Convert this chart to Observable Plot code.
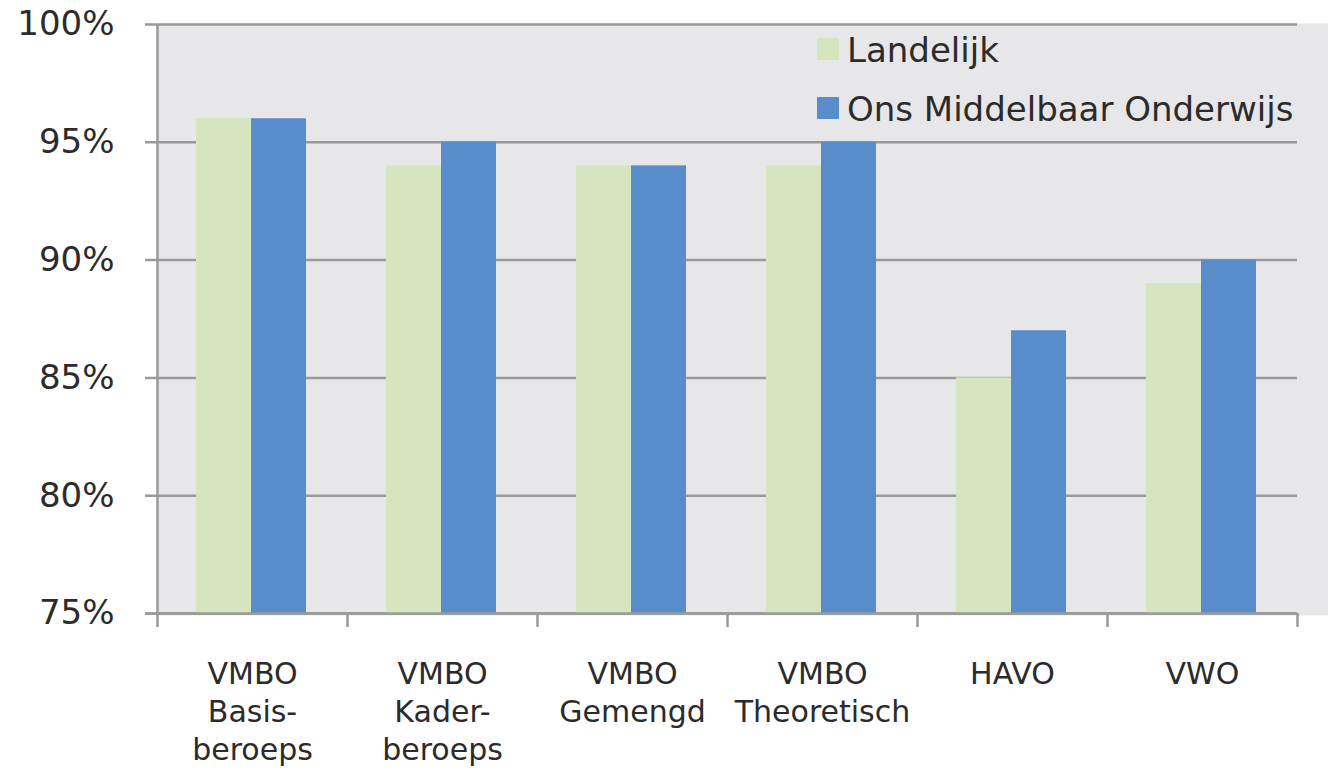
<!DOCTYPE html>
<html><head><meta charset="utf-8">
<script src="https://cdn.jsdelivr.net/npm/d3@7"></script>
<script src="https://cdn.jsdelivr.net/npm/@observablehq/plot@0.6"></script>
<style>
body{margin:0;background:#fff;font-family:"DejaVu Sans",Verdana,sans-serif;}
#wrap{position:relative;width:1328px;height:771px;}
.sw{position:absolute;left:817px;width:22px;height:22px;}
.lt{position:absolute;left:847px;font-size:34px;line-height:34px;color:#2b2b2b;white-space:nowrap;}
</style></head><body><div id="wrap"></div>
<script>
const categories = ["VMBO\nBasis-\nberoeps", "VMBO\nKader-\nberoeps", "VMBO\nGemengd", "VMBO\nTheoretisch", "HAVO", "VWO"];
const series = ["Landelijk", "Ons Middelbaar Onderwijs"];
const landelijk = [96, 94, 94, 94, 85, 89];
const ons = [96, 95, 94, 95, 87, 90];
const yTicks = [75, 80, 85, 90, 95, 100];

const colors = ["#d6e5be", "#588ccb"];
const bg = "#e7e7e9", grid = "#9a9a9a", ink = "#2b2b2b";
const W = 1328, H = 771, ml = 157, mr = 31, mt = 24, mb = 158;
const bw = (W - ml - mr) / categories.length;
const rows = categories.map((c, i) => ({cat: c, l: landelijk[i], o: ons[i]}));

const plot = Plot.plot({
  width: W, height: H,
  marginLeft: ml, marginRight: mr, marginTop: mt, marginBottom: mb,
  style: {fontFamily: '"DejaVu Sans", Verdana, sans-serif', background: "transparent", color: ink},
  x: {type: "band", domain: categories, padding: 0, axis: null},
  y: {domain: [75, 100], axis: null},
  marks: [
    Plot.frame({fill: bg, stroke: "none", insetRight: -mr, insetTop: -1, insetBottom: -2}),
    Plot.ruleY(yTicks, {y: d => d, stroke: grid, strokeWidth: 2.5, insetLeft: -12}),
    Plot.barY(rows, {x: "cat", y1: 75, y2: "l", fill: colors[0], insetLeft: bw / 2 - 56, insetRight: bw / 2 + 1}),
    Plot.barY(rows, {x: "cat", y1: 75, y2: "o", fill: colors[1], insetLeft: bw / 2 - 1, insetRight: bw / 2 - 54}),
    Plot.ruleY([75], {y: d => d, stroke: grid, strokeWidth: 2.5, insetLeft: -12}),
    Plot.ruleX([categories[0]], {x: d => d, dx: -bw / 2, stroke: grid, strokeWidth: 2.5, insetBottom: -14}),
    Plot.ruleX(categories.slice(1), {x: d => d, dx: -bw / 2, stroke: grid, strokeWidth: 2.5, insetTop: H - mt - mb, insetBottom: -14}),
    Plot.ruleX([categories[categories.length - 1]], {x: d => d, dx: bw / 2, stroke: grid, strokeWidth: 2.5, insetTop: H - mt - mb, insetBottom: -14}),
    Plot.text(yTicks, {y: d => d, text: d => d + "%", frameAnchor: "left", textAnchor: "end", dx: -43, fontSize: 34, fill: ink}),
    Plot.text(categories, {x: d => d, text: d => d, frameAnchor: "bottom", lineAnchor: "top", dy: 43, fontSize: 30, lineHeight: 1.27, fill: ink})
  ]
});
const wrap = document.getElementById("wrap");
wrap.appendChild(plot);
const tops = [33, 92];
series.forEach((s, i) => {
  const sw = document.createElement("div");
  sw.className = "sw";
  sw.style.top = (tops[i] + 5) + "px";
  sw.style.background = colors[i];
  wrap.appendChild(sw);
  const t = document.createElement("div");
  t.className = "lt";
  t.style.top = tops[i] + "px";
  t.textContent = s;
  wrap.appendChild(t);
});
plot.style.position = "absolute";
plot.style.left = "0"; plot.style.top = "0";
</script></body></html>
